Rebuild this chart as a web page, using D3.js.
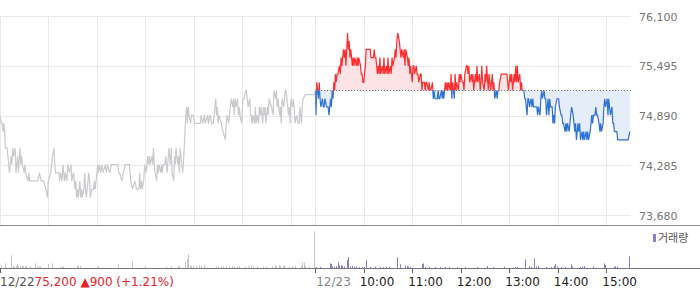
<!DOCTYPE html>
<html><head><meta charset="utf-8">
<script src="https://cdn.jsdelivr.net/npm/d3@7"></script>
<style>html,body{margin:0;padding:0;background:#fff;overflow:hidden}svg{display:block;font-family:"DejaVu Sans",sans-serif}</style>
</head><body><svg id="c" width="700" height="289"></svg>
<script>
// ---------- data ----------
const dayLabels = ["12/22", "12/23"];
const hourLabels = ["10:00", "11:00", "12:00", "13:00", "14:00", "15:00"];
const priceTicks = [73680, 74285, 74890, 75495, 76100];
const basePrice = 75200;
const lastPriceText = "75,200";
const changeText = "\u25B2900 (+1.21%)";
const legendLabel = "거래량";

// [minute since 09:00, price] for 12/22
const prevDay = [[0,74900],[2,74800],[3,74800],[4,74700],[5,74800],[6,74700],[7,74500],[9,74500],[10,74400],[11,74300],[12,74200],[14,74400],[15,74300],[16,74500],[17,74400],[19,74500],[20,74200],[21,74300],[22,74400],[23,74200],[25,74500],[26,74300],[27,74400],[28,74300],[30,74200],[31,74300],[32,74200],[35,74100],[36,74200],[37,74100],[40,74100],[43,74100],[47,74100],[49,74200],[51,74100],[54,74100],[57,74000],[59,73900],[60,74100],[63,74200],[65,74400],[67,74500],[68,74300],[69,74200],[73,74200],[74,74100],[75,74200],[77,74100],[78,74300],[79,74200],[80,74100],[81,74200],[83,74100],[84,74300],[86,74200],[88,74300],[89,74100],[91,74200],[93,74000],[94,74100],[95,73900],[96,74000],[97,73900],[99,74100],[100,73900],[101,74000],[102,73900],[104,74000],[105,74200],[106,74000],[107,73900],[109,74100],[110,74200],[111,74100],[112,73900],[114,74000],[116,74000],[117,74100],[118,74000],[120,74200],[121,74300],[122,74200],[123,74300],[125,74200],[126,74300],[128,74200],[130,74300],[132,74200],[133,74300],[136,74200],[138,74300],[141,74300],[142,74300],[146,74300],[147,74200],[148,74200],[151,74100],[153,74200],[155,74300],[158,74300],[160,74300],[162,74100],[164,74000],[167,74100],[169,74000],[172,74000],[173,74200],[174,74000],[175,74100],[176,74000],[178,74100],[179,74300],[181,74200],[183,74400],[184,74300],[185,74400],[186,74300],[188,74400],[189,74300],[190,74500],[191,74300],[192,74200],[194,74100],[195,74300],[196,74200],[197,74300],[199,74200],[200,74300],[201,74200],[202,74300],[204,74300],[205,74400],[206,74300],[207,74200],[209,74500],[210,74400],[211,74300],[212,74500],[213,74200],[215,74100],[216,74400],[217,74300],[218,74500],[220,74300],[221,74400],[222,74200],[223,74500],[225,74300],[226,74200],[227,74300],[230,74900],[231,75000],[232,74800],[233,75000],[234,74900],[236,74800],[237,74900],[239,74900],[241,74800],[247,74800],[248,74800],[249,74900],[251,74800],[253,74900],[254,74800],[257,74900],[258,74800],[260,74900],[262,74800],[264,74800],[265,74900],[267,75100],[268,74900],[269,75000],[270,74800],[271,74900],[274,74800],[276,74700],[279,74600],[280,74800],[281,74900],[283,74800],[284,74900],[285,75000],[286,75100],[288,75000],[289,75100],[290,74900],[291,75100],[292,75000],[294,75100],[295,74900],[296,75000],[297,74900],[299,74800],[300,75000],[301,75100],[302,75100],[304,75200],[305,75200],[306,75100],[307,75000],[309,75100],[310,74900],[311,74900],[312,74800],[313,74900],[315,74800],[316,75000],[317,74800],[318,74900],[320,74800],[321,75000],[322,74900],[323,75000],[325,74800],[326,75000],[327,74900],[328,75000],[329,74800],[331,75000],[332,74900],[333,75100],[336,75000],[338,74900],[339,75200],[341,75100],[342,75200],[343,75000],[344,75100],[346,74900],[347,75000],[348,74800],[349,75100],[351,75000],[352,75100],[353,75200],[354,75200],[355,75100],[357,74900],[358,75000],[359,74800],[360,75100],[362,75000],[363,75100],[364,75000],[365,74800],[367,74900],[369,74800],[370,74800],[371,75000],[373,74800],[374,75000],[375,75100],[378,75150],[389,75150]];

// [minute since 09:00, price] for 12/23
const curDay = [[0,75200],[1,74900],[2,75300],[3,75200],[4,75100],[5,75300],[6,75100],[7,75000],[9,75100],[10,75000],[11,75000],[12,75100],[14,75000],[15,75000],[16,75000],[17,74900],[19,75100],[20,75000],[21,75200],[22,75100],[23,75300],[24,75200],[25,75400],[26,75300],[27,75400],[28,75400],[30,75500],[31,75400],[32,75600],[33,75500],[35,75700],[36,75600],[37,75700],[38,75500],[40,75900],[41,75700],[42,75800],[43,75600],[44,75700],[46,75500],[47,75600],[48,75500],[49,75600],[51,75500],[52,75600],[53,75500],[54,75600],[56,75500],[57,75400],[58,75400],[59,75300],[60,75300],[62,75500],[63,75700],[64,75700],[67,75700],[68,75700],[69,75600],[70,75600],[72,75600],[73,75700],[74,75600],[75,75600],[77,75400],[78,75500],[79,75400],[80,75600],[81,75400],[83,75500],[84,75400],[85,75600],[86,75400],[88,75500],[89,75400],[90,75600],[91,75400],[93,75500],[94,75400],[95,75600],[96,75500],[98,75600],[99,75700],[100,75600],[101,75800],[102,75900],[104,75800],[105,75700],[106,75600],[107,75700],[109,75600],[110,75700],[111,75500],[112,75700],[114,75600],[115,75500],[116,75600],[117,75400],[118,75500],[120,75300],[121,75500],[122,75500],[123,75400],[125,75500],[126,75400],[127,75400],[128,75300],[130,75400],[131,75400],[132,75200],[133,75300],[135,75300],[136,75200],[137,75300],[138,75300],[140,75200],[141,75300],[142,75200],[143,75200],[145,75300],[146,75100],[147,75200],[148,75100],[151,75100],[152,75200],[153,75100],[154,75100],[156,75200],[157,75100],[158,75200],[159,75100],[161,75300],[162,75200],[163,75300],[164,75200],[165,75300],[167,75200],[168,75400],[169,75100],[170,75300],[172,75100],[173,75400],[174,75200],[175,75300],[177,75200],[178,75400],[179,75300],[180,75400],[182,75300],[183,75300],[184,75200],[185,75400],[187,75500],[188,75500],[189,75400],[190,75500],[191,75300],[193,75400],[194,75300],[195,75400],[196,75200],[198,75400],[199,75300],[200,75500],[201,75300],[203,75400],[204,75200],[205,75300],[206,75500],[207,75300],[209,75200],[210,75400],[211,75300],[212,75500],[214,75200],[215,75400],[216,75300],[217,75200],[219,75400],[220,75200],[221,75300],[222,75100],[224,75200],[225,75100],[226,75200],[227,75200],[228,75300],[230,75400],[233,75400],[237,75400],[238,75300],[239,75200],[241,75400],[242,75300],[243,75400],[244,75200],[246,75400],[247,75300],[248,75500],[249,75300],[250,75500],[251,75300],[253,75400],[254,75200],[255,75300],[256,75200],[258,75200],[259,75100],[260,75100],[262,74900],[263,75100],[264,75100],[265,75000],[267,75100],[268,75000],[269,75100],[270,75000],[272,75000],[273,75000],[274,75000],[275,74900],[276,75000],[278,74900],[279,75100],[280,75200],[281,75100],[283,75200],[284,75100],[285,75100],[286,74900],[288,75100],[289,74900],[290,75100],[291,75000],[293,75000],[294,74800],[295,74900],[296,74800],[297,75000],[299,75100],[300,75100],[301,75100],[302,75000],[304,74900],[305,74900],[306,74800],[307,74800],[309,74700],[310,74800],[311,74700],[312,74800],[314,74700],[315,74800],[316,74900],[317,75000],[319,74900],[320,74800],[321,74700],[322,74800],[323,74600],[325,74800],[326,74700],[327,74800],[328,74600],[330,74700],[331,74600],[332,74700],[333,74600],[335,74700],[336,74600],[337,74700],[338,74600],[340,74700],[341,74800],[342,74900],[343,74800],[344,74900],[346,74900],[347,75000],[348,74900],[349,74900],[351,74800],[352,74700],[353,74800],[354,74700],[356,74800],[357,75000],[358,75100],[359,75000],[361,75100],[362,74900],[363,75100],[364,75000],[365,74900],[367,75000],[368,74800],[369,74800],[370,74700],[372,74700],[373,74700],[374,74600],[375,74600],[387,74600],[389,74700]];

// [minute since 09:00, volume (shares)]
const prevVolume = [[1,2300],[7,4700],[14,12700],[16,2000],[18,1500],[20,2000],[21,4000],[23,2000],[25,2000],[27,2000],[29,2000],[31,2000],[33,2000],[37,2000],[44,4700],[46,2000],[48,1500],[50,1500],[59,4000],[64,4700],[75,1500],[77,1500],[78,1500],[95,2300],[97,2300],[99,2000],[120,1500],[122,1500],[146,4000],[164,6700],[179,2300],[205,1500],[212,2000],[220,2000],[222,1500],[229,6000],[231,9000],[233,13700],[235,2000],[237,2000],[239,2000],[242,1500],[246,2500],[249,2000],[253,3000],[267,1500],[270,2000],[273,2000],[276,1500],[280,2000],[283,1500],[287,2000],[290,1500],[293,1500],[296,2000],[303,1500],[307,2000],[310,2500],[313,1500],[318,1500],[325,1500],[329,1500],[337,1500],[340,2000],[342,2500],[345,3000],[347,2000],[350,2000],[352,2500],[357,1500],[361,2000],[365,2000],[372,2000],[374,5700],[376,5700],[378,2000],[382,1500],[389,36700]];
const curVolume = [[1,1000],[6,1000],[18,4700],[19,4000],[21,1500],[23,1500],[26,2000],[28,5700],[30,2500],[32,3000],[33,2000],[36,1500],[39,8000],[40,10700],[41,3000],[43,1500],[46,2000],[48,1500],[51,1500],[54,1000],[58,1000],[60,1000],[63,7700],[68,1000],[74,1500],[80,1000],[84,1000],[88,1000],[91,1000],[101,10700],[105,3700],[111,2500],[113,2000],[115,1500],[117,1000],[132,4000],[133,4700],[136,1000],[141,1000],[148,1000],[154,1000],[160,1000],[165,1000],[175,1000],[185,1000],[200,1000],[213,2000],[220,1000],[234,1300],[247,1000],[250,1000],[260,8700],[264,2000],[267,1000],[271,9700],[273,1500],[276,2000],[286,1000],[291,1000],[295,2000],[296,4000],[299,1500],[304,1000],[309,1000],[316,3700],[318,1500],[327,1000],[330,1500],[332,2000],[343,1500],[344,1500],[357,4700],[358,3000],[369,1500],[371,1500],[373,1500],[388,11700]];

// ---------- layout ----------
const svg = d3.select("#c");
const plotRight = 631;
const x = d3.scaleLinear().domain([0, 780]).range([-0.2, 630.6]);
const y = d3.scaleLinear().domain([73680, 76100]).range([215.5, 16.5]);
const yv = d3.scaleLinear().domain([0, 40000]).range([268, 228]);
const DAY = 390;
const snap = v => Math.round(v) + 0.5;

// gridlines
const g = svg.append("g");
g.selectAll("line.h").data(priceTicks).join("line")
  .attr("x1", 0).attr("x2", plotRight).attr("y1", d => snap(y(d) - 0.5)).attr("y2", d => snap(y(d) - 0.5))
  .attr("stroke", "#e9e9ea").attr("stroke-width", 1);
const hourMins = [];
for (let dday = 0; dday < 2; dday++) for (let h = 0; h <= 6; h++) if (!(dday === 0 && h === 0)) hourMins.push(dday * DAY + h * 60);
g.selectAll("line.v").data([0].concat(hourMins)).join("line")
  .attr("x1", d => snap(x(d))).attr("x2", d => snap(x(d))).attr("y1", 16).attr("y2", 225)
  .attr("stroke", "#e9e9ea");

// clips
const defs = svg.append("defs");
const yb = y(basePrice);
defs.append("clipPath").attr("id", "plot").append("rect").attr("x", 0).attr("y", 0).attr("width", plotRight).attr("height", 225);
defs.append("clipPath").attr("id", "up").append("rect").attr("x", x(DAY)).attr("y", 0).attr("width", 400).attr("height", yb);
defs.append("clipPath").attr("id", "dn").append("rect").attr("x", x(DAY)).attr("y", yb).attr("width", 400).attr("height", 225 - yb);

const cur = curDay.map(d => [d[0] + DAY, d[1]]);
const line = d3.line().x(d => x(d[0])).y(d => y(d[1]));
const area = d3.area().x(d => x(d[0])).y0(yb).y1(d => y(d[1]));

const pg = svg.append("g").attr("clip-path", "url(#plot)");
// areas
pg.append("g").attr("clip-path", "url(#up)").append("path").attr("d", area(cur)).attr("fill", "#fde3e5");
pg.append("g").attr("clip-path", "url(#dn)").append("path").attr("d", area(cur)).attr("fill", "#e5edf9");
// baseline dotted
pg.append("line").attr("x1", x(DAY)).attr("x2", plotRight).attr("y1", yb).attr("y2", yb)
  .attr("stroke", "#555").attr("stroke-dasharray", "1,2").attr("stroke-width", 1);
// previous day line
pg.append("path").attr("d", line(prevDay.concat([cur[0]]))).attr("fill", "none").attr("stroke", "#c9cacd").attr("stroke-width", 1.2);
// current day lines
pg.append("g").attr("clip-path", "url(#up)").append("path").attr("d", line(cur)).attr("fill", "none").attr("stroke", "#ff2d2d").attr("stroke-width", 1.2);
pg.append("g").attr("clip-path", "url(#dn)").append("path").attr("d", line(cur)).attr("fill", "none").attr("stroke", "#2f72d6").attr("stroke-width", 1.2);

// separators
svg.append("line").attr("x1", 0).attr("x2", 700).attr("y1", 225.5).attr("y2", 225.5).attr("stroke", "#8a8a8c").attr("stroke-width", 1);

// volume
svg.append("g").selectAll("rect").data(prevVolume).join("rect")
  .attr("x", d => Math.round(x(d[0]))).attr("width", 1)
  .attr("y", d => yv(d[1])).attr("height", d => 268 - yv(d[1])).attr("fill", "#c6c6ca");
svg.append("g").selectAll("rect").data(curVolume).join("rect")
  .attr("x", d => Math.round(x(d[0] + DAY))).attr("width", 1)
  .attr("y", d => yv(d[1])).attr("height", d => 268 - yv(d[1])).attr("fill", "#8f7cc4");
svg.append("line").attr("x1", 0).attr("x2", 700).attr("y1", 268.5).attr("y2", 268.5).attr("stroke", "#77777a").attr("stroke-width", 1);

// legend
svg.append("rect").attr("x", 653).attr("y", 234).attr("width", 3).attr("height", 8).attr("fill", "#8f7cc4");
svg.append("text").attr("x", 658).attr("y", 242).attr("font-size", 11).attr("font-family", "'Noto Sans CJK KR',sans-serif").attr("fill", "#555").text(legendLabel);

// right axis labels
svg.append("g").selectAll("text").data(priceTicks).join("text")
  .attr("x", 639).attr("y", d => y(d) + 4).attr("font-size", 11).attr("fill", "#777")
  .text(d => d3.format(",")(d));

// bottom ticks
const tickMins = [0, DAY].concat(d3.range(1, 7).map(h => DAY + h * 60));
svg.append("g").selectAll("line").data(tickMins).join("line")
  .attr("x1", d => snap(x(d))).attr("x2", d => snap(x(d))).attr("y1", 268).attr("y2", 273)
  .attr("stroke", "#666");

// bottom labels
const lab = svg.append("text").attr("x", 0).attr("y", 286).attr("font-size", 12);
lab.append("tspan").attr("fill", "#555").text(dayLabels[0]);
lab.append("tspan").attr("fill", "#e8222a").text(lastPriceText + " " + changeText);
svg.append("text").attr("x", x(DAY) + 1).attr("y", 286).attr("font-size", 12).attr("fill", "#888").text(dayLabels[1]);
svg.append("g").selectAll("text").data(hourLabels).join("text")
  .attr("x", (d, i) => x(DAY + (i + 1) * 60) - 4).attr("y", 286).attr("font-size", 12).attr("fill", "#222")
  .text(d => d);
</script></body></html>
